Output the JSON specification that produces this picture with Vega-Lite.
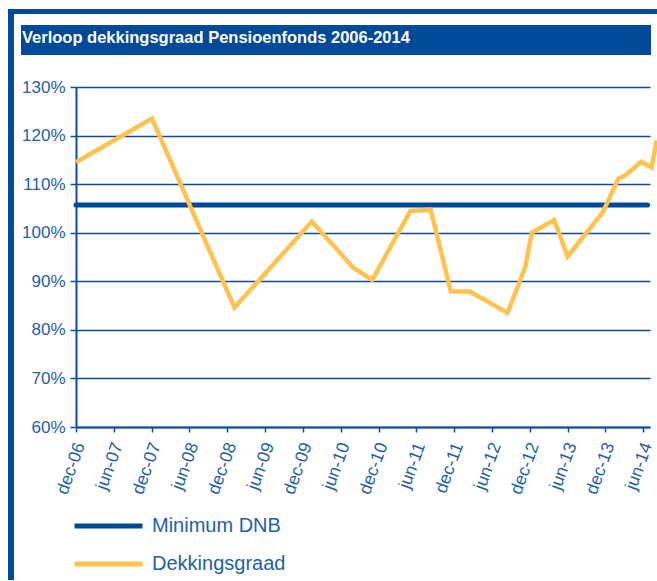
{
  "$schema": "https://vega.github.io/schema/vega-lite/v6.json",
  "padding": {"left": 8, "top": 9, "right": 0, "bottom": 0},
  "background": "white",
  "config": {"view": {"stroke": null}},
  "spacing": 0,
  "hconcat": [
    {
      "width": 6, "height": 571,
      "view": {"fill": "#004a98", "stroke": null},
      "data": {"values": []},
      "mark": "point",
      "encoding": {}
    },
    {
      "spacing": 11,
      "vconcat": [
        {
          "width": 643, "height": 5,
          "view": {"fill": "#004a98", "stroke": null},
          "data": {"values": []},
          "mark": "point",
          "encoding": {}
        },
        {
          "spacing": 23,
          "vconcat": [
            {
              "spacing": 6,
              "hconcat": [
                {
                  "width": 1, "height": 1,
                  "view": {"stroke": null},
                  "data": {"values": []},
                  "mark": "point",
                  "encoding": {}
                },
                {
                  "width": 630, "height": 30,
                  "view": {"fill": "#004a98", "stroke": null},
                  "data": {"values": [{"label": "Verloop dekkingsgraad Pensioenfonds 2006-2014"}]},
                  "mark": {"type": "text", "align": "left", "baseline": "middle", "color": "white", "font": "Liberation Sans", "fontSize": 16.5, "fontWeight": "bold", "dx": 1, "dy": -2},
                  "encoding": {
                    "text": {"field": "label"},
                    "x": {"datum": 0, "type": "quantitative", "scale": {"domain": [0, 1]}, "axis": null}
                  }
                }
              ]
            },
            {
              "spacing": 6,
              "hconcat": [
                {
                  "width": 1, "height": 1,
                  "view": {"stroke": null},
                  "data": {"values": []},
                  "mark": "point",
                  "encoding": {}
                },
                {
                  "width": 574, "height": 340,
                  "data": {"values": [
                    {"series": "Minimum DNB", "date": "2006-12-01", "value": 105.7},
                    {"series": "Minimum DNB", "date": "2014-06-22", "value": 105.7},
                    {"series": "Dekkingsgraad", "date": "2006-12-01", "value": 114.5},
                    {"series": "Dekkingsgraad", "date": "2007-12-03", "value": 123.5},
                    {"series": "Dekkingsgraad", "date": "2009-01-04", "value": 84.6},
                    {"series": "Dekkingsgraad", "date": "2010-01-13", "value": 102.3},
                    {"series": "Dekkingsgraad", "date": "2010-08-01", "value": 92.8},
                    {"series": "Dekkingsgraad", "date": "2010-11-01", "value": 90.3},
                    {"series": "Dekkingsgraad", "date": "2011-05-04", "value": 104.5},
                    {"series": "Dekkingsgraad", "date": "2011-08-10", "value": 104.7},
                    {"series": "Dekkingsgraad", "date": "2011-11-15", "value": 87.9},
                    {"series": "Dekkingsgraad", "date": "2012-02-15", "value": 87.9},
                    {"series": "Dekkingsgraad", "date": "2012-08-15", "value": 83.5},
                    {"series": "Dekkingsgraad", "date": "2012-11-09", "value": 93.0},
                    {"series": "Dekkingsgraad", "date": "2012-12-10", "value": 100.0},
                    {"series": "Dekkingsgraad", "date": "2013-03-28", "value": 102.6},
                    {"series": "Dekkingsgraad", "date": "2013-06-01", "value": 95.1},
                    {"series": "Dekkingsgraad", "date": "2013-11-19", "value": 104.3},
                    {"series": "Dekkingsgraad", "date": "2014-02-01", "value": 111.1},
                    {"series": "Dekkingsgraad", "date": "2014-03-04", "value": 111.7},
                    {"series": "Dekkingsgraad", "date": "2014-05-22", "value": 114.6},
                    {"series": "Dekkingsgraad", "date": "2014-07-12", "value": 113.4},
                    {"series": "Dekkingsgraad", "date": "2014-08-05", "value": 119.0}
                  ]},
                  "encoding": {
                    "x": {
                      "field": "date", "type": "temporal",
                      "scale": {"type": "utc", "domain": [{"year": 2006, "month": 12, "date": 1, "utc": true}, {"year": 2014, "month": 7, "date": 4, "utc": true}]},
                      "axis": {
                        "title": null, "grid": false,
                        "values": [
                          {"year": 2006, "month": 12, "date": 1, "utc": true},
                          {"year": 2007, "month": 6, "date": 1, "utc": true},
                          {"year": 2007, "month": 12, "date": 1, "utc": true},
                          {"year": 2008, "month": 6, "date": 1, "utc": true},
                          {"year": 2008, "month": 12, "date": 1, "utc": true},
                          {"year": 2009, "month": 6, "date": 1, "utc": true},
                          {"year": 2009, "month": 12, "date": 1, "utc": true},
                          {"year": 2010, "month": 6, "date": 1, "utc": true},
                          {"year": 2010, "month": 12, "date": 1, "utc": true},
                          {"year": 2011, "month": 6, "date": 1, "utc": true},
                          {"year": 2011, "month": 12, "date": 1, "utc": true},
                          {"year": 2012, "month": 6, "date": 1, "utc": true},
                          {"year": 2012, "month": 12, "date": 1, "utc": true},
                          {"year": 2013, "month": 6, "date": 1, "utc": true},
                          {"year": 2013, "month": 12, "date": 1, "utc": true},
                          {"year": 2014, "month": 6, "date": 1, "utc": true}
                        ],
                        "labelExpr": "lower(utcFormat(datum.value, '%b-%y'))",
                        "labelAngle": -70, "labelAlign": "right", "labelBaseline": "middle",
                        "labelFont": "Liberation Sans", "labelFontSize": 17.5, "labelColor": "#2260a8",
                        "labelPadding": 11, "labelOffset": 4, "labelOverlap": false, "labelBound": false, "labelFlush": false,
                        "domainColor": "#0d4d9c", "domainWidth": 2,
                        "tickColor": "#0d4d9c", "tickWidth": 1.5, "tickSize": 5
                      }
                    },
                    "y": {
                      "field": "value", "type": "quantitative",
                      "scale": {"domain": [60, 130], "nice": false, "zero": false},
                      "axis": {
                        "title": null, "values": [60, 70, 80, 90, 100, 110, 120, 130],
                        "labelExpr": "datum.value + '%'",
                        "labelFont": "Liberation Sans", "labelFontSize": 17, "labelColor": "#2260a8",
                        "labelPadding": 5,
                        "grid": true, "gridColor": "#0d4d9c", "gridWidth": 1.5, "gridOpacity": 1,
                        "domainColor": "#0d4d9c", "domainWidth": 2,
                        "tickColor": "#0d4d9c", "tickWidth": 1.5, "tickSize": 6
                      }
                    },
                    "color": {
                      "field": "series", "type": "nominal",
                      "scale": {"domain": ["Minimum DNB", "Dekkingsgraad"], "range": ["#004a98", "#ffc24e"]},
                      "legend": {
                        "title": null, "orient": "none", "legendX": 64, "legendY": 507,
                        "symbolType": "stroke", "symbolSize": 4624, "symbolStrokeWidth": 5,
                        "clipHeight": 20,
                        "labelFont": "Liberation Sans", "labelFontSize": 20, "labelColor": "#2260a8",
                        "labelOffset": 7, "rowPadding": 18, "padding": 0
                      }
                    }
                  },
                  "layer": [
                    {
                      "transform": [{"filter": "datum.series == 'Minimum DNB'"}],
                      "mark": {"type": "line", "strokeWidth": 5, "strokeCap": "round"}
                    },
                    {
                      "transform": [{"filter": "datum.series == 'Dekkingsgraad'"}],
                      "mark": {"type": "line", "strokeWidth": 4.5, "strokeJoin": "miter"}
                    }
                  ]
                }
              ]
            }
          ]
        }
      ]
    }
  ]
}
